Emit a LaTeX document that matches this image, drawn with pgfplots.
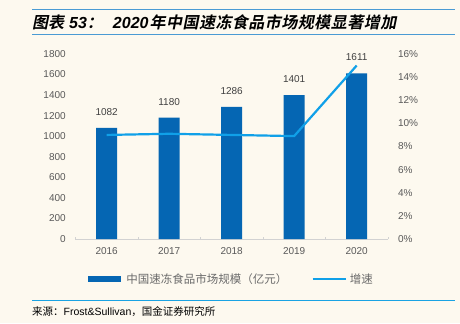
\documentclass[border=0pt]{standalone}
\usepackage{pgfplots}
\pgfplotsset{compat=1.18}
\usepackage{fontspec}
\setmainfont{Liberation Sans}
\newfontfamily\cjk{Noto Sans CJK SC}
\newfontfamily\cjktitle[FakeSlant=0.2]{Noto Sans CJK SC Bold}
\newfontfamily\cjktitlesp[FakeSlant=0.2,LetterSpace=3]{Noto Sans CJK SC Bold}
\definecolor{bg}{HTML}{FDF9EF}
\definecolor{barblue}{HTML}{0566B3}
\definecolor{lineblue}{HTML}{10A0E8}
\definecolor{rulecol}{HTML}{4A9BD4}
\definecolor{srcrule}{HTML}{1AA3E3}
\definecolor{tickc}{HTML}{595959}
\definecolor{legc}{HTML}{6A6A6A}
\definecolor{valc}{HTML}{404040}
\begin{document}
\begin{tikzpicture}[x=1bp,y=1bp]
\fill[bg] (0,0) rectangle (460,323);
\useasboundingbox (0,0) rectangle (460,323);
\draw[rulecol, line width=1bp] (32,313.5) -- (455,313.5);
\draw[rulecol, line width=1bp] (32,288.7) -- (455,288.7);
\node[anchor=west, inner sep=0] at (32,300.5) {\fontsize{16bp}{18bp}\selectfont{\cjktitle 图表}\hspace{5bp}{\bfseries\itshape 53}{\cjktitle ：}\hspace{10bp}{\bfseries\itshape 2020}\hspace{1bp}{\cjktitlesp 年中国速冻食品市场规模显著增加}};
\draw[srcrule, line width=0.8bp] (32,22.7) -- (455,22.7);
\node[anchor=west, inner sep=0] at (32,11.3) {\fontsize{10.5bp}{12bp}\selectfont{\cjk 来源：}Frost\&Sullivan{\cjk ，国金证券研究所}};
\begin{axis}[
  at={(75.4bp,84bp)}, anchor=south west, scale only axis,
  width=312.5bp, height=185bp,
  xmin=-0.5, xmax=4.5, ymin=0, ymax=1800,
  xtick={0,1,2,3,4}, xticklabels={2016,2017,2018,2019,2020},
  ytick={0,200,...,1800},
  minor xtick={-0.5,0.5,1.5,2.5,3.5,4.5},
  axis x line*=bottom, axis y line*=left,
  x axis line style={draw=gray!35, -},
  y axis line style={draw=none},
  major tick length=0pt, minor tick length=2.5bp,
  minor tick style={gray!35},
  /pgf/number format/assume math mode=true,
  /pgf/number format/1000 sep={},
  ticklabel style={font=\fontsize{10bp}{12bp}\selectfont, text=tickc, inner sep=0pt},
  yticklabel style={xshift=-9.5bp},
  xticklabel style={yshift=-8.5bp},
  legend columns=2,
  legend style={at={(0.5,-0.216)}, anchor=center, draw=none, fill=none,
    font=\cjk\fontsize{11.5bp}{13bp}\selectfont, text=legc,
    /tikz/every even column/.append style={column sep=22bp}},
]
\addplot[ybar, bar width=21bp, fill=barblue, draw=none,
  nodes near coords,
  every node near coord/.append style={font=\fontsize{10bp}{12bp}\selectfont, text=valc, yshift=9bp},
  legend image code/.code={\fill[barblue] (0bp,-3bp) rectangle (33bp,3bp);}]
  coordinates {(0,1082) (1,1180) (2,1286) (3,1401) (4,1611)};
\addlegendentry{\hspace{3bp}中国速冻食品市场规模（亿元）}
\addlegendimage{lineblue, line width=2.5bp, legend image code/.code={\draw (0bp,0bp) -- (33bp,0bp);}}
\addlegendentry{\hspace{1bp}增速}
\end{axis}
\begin{axis}[
  at={(75.4bp,84bp)}, anchor=south west, scale only axis,
  width=312.5bp, height=185bp,
  xmin=-0.5, xmax=4.5, ymin=0, ymax=16,
  axis x line=none, axis y line*=right,
  y axis line style={draw=none},
  ytick={0,2,...,16},
  yticklabel={\pgfmathprintnumber{\tick}\%},
  major tick length=0pt,
  /pgf/number format/assume math mode=true,
  ticklabel style={font=\fontsize{10bp}{12bp}\selectfont, text=tickc, inner sep=0pt},
  yticklabel style={xshift=10bp},
]
\addplot[lineblue, line width=2.2bp] coordinates {(0,9.0) (1,9.1) (2,9.0) (3,8.9) (4,15.0)};
\end{axis}
\end{tikzpicture}
\end{document}
